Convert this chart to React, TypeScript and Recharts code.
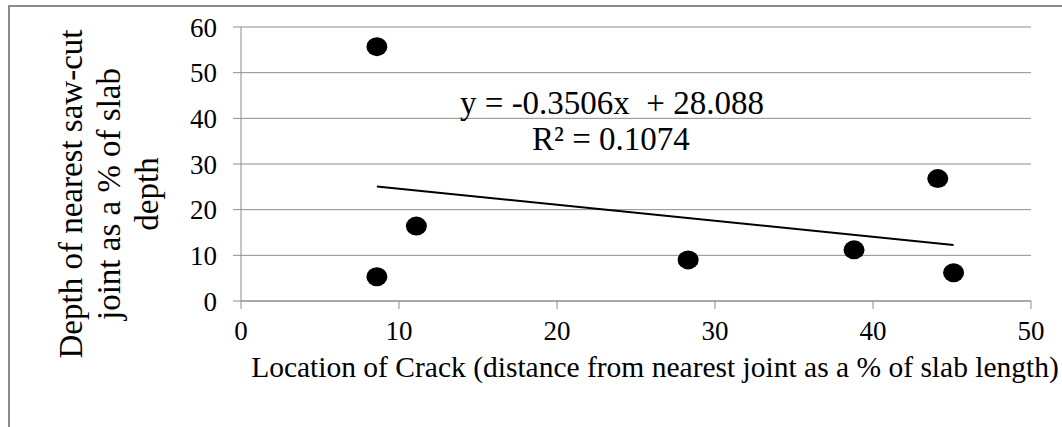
import { ScatterChart, Scatter, XAxis, YAxis, CartesianGrid } from 'recharts';

// Crack position vs. saw-cut depth, one entry per slab
const crackLocation = [8.6, 8.6, 11.1, 28.3, 38.8, 44.1, 45.1];
const sawCutDepth = [55.7, 5.3, 16.4, 9.0, 11.2, 26.8, 6.2];

const xTicks = [0, 10, 20, 30, 40, 50];
const yTicks = [0, 10, 20, 30, 40, 50, 60];

// Linear fit as reported on the chart
const slope = -0.3506;
const intercept = 28.088;
const rSquared = 0.1074;

const points = crackLocation.map((x, i) => ({ x, y: sawCutDepth[i] }));

const xMin = Math.min(...crackLocation);
const xMax = Math.max(...crackLocation);
const trend = [xMin, xMax].map((x) => ({ x, y: slope * x + intercept }));

const FONT = '"Liberation Serif", "Times New Roman", serif';
const GRID = '#8c8c8c';

// markers are slightly wider than tall
const Dot = (props: any) => <ellipse cx={props.cx} cy={props.cy} rx={10.5} ry={9.5} fill="#000" />;

const serif = (size: number) => ({ fontFamily: FONT, fontSize: size });

export default function App() {
  return (
    <div
      style={{
        position: 'absolute',
        left: 0,
        top: 0,
        width: 1062,
        height: 427,
        overflow: 'hidden',
        background: '#fff',
        fontFamily: FONT,
      }}
    >
      <div
        style={{
          position: 'absolute',
          left: 8,
          top: 5,
          width: 1200,
          height: 600,
          borderLeft: `2px solid ${GRID}`,
          borderTop: `2px solid ${GRID}`,
        }}
      />
      <div style={{ position: 'absolute', left: 0, top: 0 }}>
        <ScatterChart width={1062} height={427} margin={{ top: 27, right: 31, bottom: 86, left: 181 }}>
          <CartesianGrid vertical={false} stroke={GRID} strokeWidth={1} />
          <XAxis
            type="number"
            dataKey="x"
            domain={[0, 50]}
            ticks={xTicks}
            height={40}
            stroke={GRID}
            tickSize={8}
            tickMargin={12}
            tick={{ fill: '#000', fontSize: 27, fontFamily: FONT }}
          />
          <YAxis
            type="number"
            dataKey="y"
            domain={[0, 60]}
            ticks={yTicks}
            width={60}
            stroke={GRID}
            tickSize={8}
            tickMargin={16}
            tick={{ fill: '#000', fontSize: 27, fontFamily: FONT }}
          />
          <Scatter data={points} shape={Dot} isAnimationActive={false} />
          <Scatter
            data={trend}
            line={{ stroke: '#000', strokeWidth: 2 }}
            shape={() => null}
            isAnimationActive={false}
          />
        </ScatterChart>
      </div>
      <svg
        width={1062}
        height={427}
        style={{ position: 'absolute', left: 0, top: 0, pointerEvents: 'none' }}
      >
        <text x={612} y={114} textAnchor="middle" fill="#000" style={serif(33)} xmlSpace="preserve">
          {`y = ${slope}x  + ${intercept}`}
        </text>
        <text x={611} y={150} textAnchor="middle" fill="#000" style={serif(33)}>
          {`R² = ${rSquared}`}
        </text>
        <text x={655} y={377} textAnchor="middle" fill="#000" style={serif(29.5)}>
          Location of Crack (distance from nearest joint as a % of slab length)
        </text>
        <g transform="translate(0,194) rotate(-90)">
          <text x={0} y={82} textAnchor="middle" fill="#000" style={serif(33)}>
            Depth of nearest saw-cut
          </text>
          <text x={0} y={120} textAnchor="middle" fill="#000" style={serif(33)}>
            joint as a % of slab
          </text>
          <text x={0} y={158} textAnchor="middle" fill="#000" style={serif(33)}>
            depth
          </text>
        </g>
      </svg>
    </div>
  );
}
